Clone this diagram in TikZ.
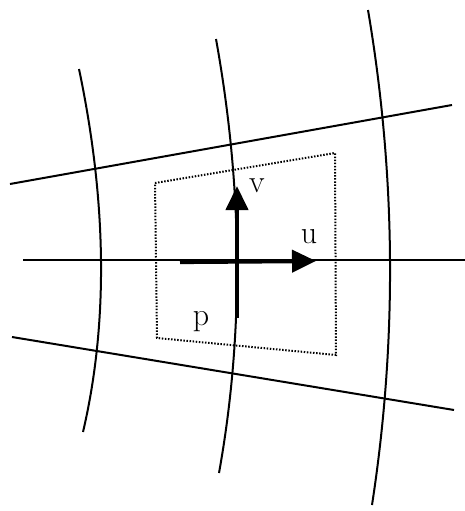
\documentclass[tikz,border=0pt]{standalone}
\usetikzlibrary{arrows.meta}
\begin{document}
\begin{tikzpicture}[x=1pt,y=-1pt,
  gridline/.style={line width=2pt,black},
  boxline/.style={line width=2pt,dash pattern=on 1.5pt off 1.6pt},
  vec/.style={line width=4.2pt,-{Triangle[length=24pt,width=22pt]}},
  lbl/.style={font=\fontsize{32}{34}\selectfont,anchor=base,inner sep=0pt}]
\useasboundingbox (0,0) rectangle (465,511);
% straight lines
\coordinate (t1) at (10,184); \coordinate (t2) at (452,105);
\coordinate (m1) at (23,260); \coordinate (m2) at (465,260);
\coordinate (b1) at (12,337); \coordinate (b2) at (454,410);
\draw[gridline] (t1) -- (t2);
\draw[gridline] (m1) -- (m2);
\draw[gridline] (b1) -- (b2);
% curved lines
\draw[gridline] (79,69) .. controls (107,202.7) and (108.3,323.7) .. (83,432);
\draw[gridline] (216,39) .. controls (243,189) and (244,333.7) .. (219,473);
\draw[gridline] (368,10) .. controls (396,175.7) and (397.3,340.7) .. (372,505);
% dotted box
\coordinate (q1) at (155,183); \coordinate (q2) at (335,153);
\coordinate (q3) at (336,355); \coordinate (q4) at (157,338);
\draw[boxline] (q1) -- (q2) -- (q3) -- (q4) -- cycle;
% vectors
\coordinate (p) at (237,261);
\coordinate (us) at (180,262); \coordinate (ue) at (316,261);
\coordinate (vs) at (237,318); \coordinate (ve) at (237,186);
\draw[vec] (us) -- (ue);
\draw[vec] (vs) -- (ve);
% labels
\node[lbl] (lv) at (257,192) {v};
\node[lbl] (lu) at (309,243) {u};
\node[lbl] (lp) at (201,325) {p};
\end{tikzpicture}
\end{document}
